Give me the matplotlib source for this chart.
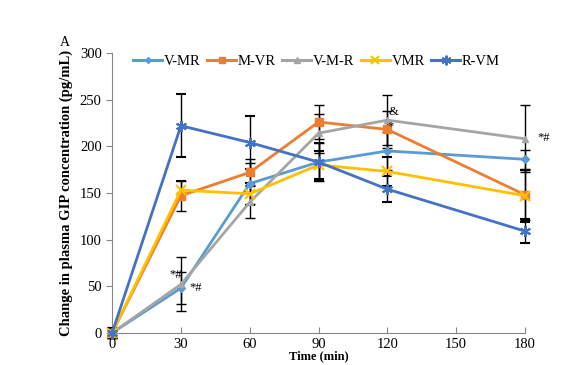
import matplotlib
matplotlib.use("Agg")
import matplotlib.pyplot as plt
from matplotlib.lines import Line2D

time = [0, 30, 60, 90, 120, 180]
series_names = ["V-MR", "M-VR", "V-M-R", "VMR", "R-VM"]
v_mr = [0, 48, 160, 183, 195, 186]
m_vr = [0, 147, 172, 226, 218, 148]
v_m_r = [0, 52, 140, 214, 228, 208]
vmr = [0, 153, 149, 180, 173, 147]
r_vm = [0, 222, 204, 183, 154, 109]

v_mr_err = [5, 17, 22, 20, 20, 10]
m_vr_err = [5, 16, 14, 18, 20, 27]
v_m_r_err = [5, 29, 17, 21, 27, 36]
vmr_err = [5, 10, 12, 15, 16, 28]
r_vm_err = [5, 34, 28, 20, 14, 13]

values = [v_mr, m_vr, v_m_r, vmr, r_vm]
errors = [v_mr_err, m_vr_err, v_m_r_err, vmr_err, r_vm_err]
colors = ["#5B9BD5", "#ED7D31", "#A5A5A5", "#FFC000", "#4472C4"]
markers = ["D", "s", "^", "x", (6, 2, 0)]
msizes = [4, 6, 5, 7, 8]

annotations = [("*#", 27.5, 62), ("*#", 36.5, 48), ("&", 122.5, 237), ("*", 121.5, 221), ("*#", 188, 209)]

plt.rcParams["font.family"] = ["Liberation Serif", "DejaVu Serif"]

fig = plt.figure(figsize=(5.75, 3.65), dpi=100)
ax = fig.add_axes([0.195, 0.088, 0.718, 0.767])

handles = []
for name, y, e, c, m, ms in zip(series_names, values, errors, colors, markers, msizes):
    mew = 1.5 if (m == "x" or isinstance(m, tuple)) else 1
    cont = ax.errorbar(time, y, yerr=e, ecolor="black", elinewidth=1, capsize=3.5, capthick=1,
                       color=c, lw=2, marker=m, ms=ms, mew=mew,
                       mfc=c, mec=c, zorder=3)
    for art in cont.get_children():
        art.set_clip_on(False)
    handles.append(Line2D([], [], color=c, lw=2.2, marker=m, ms=ms - 1, mew=mew, mfc=c, mec=c, label=name))

for txt, x, y in annotations:
    ax.text(x, y, txt, fontsize=9, ha="center", va="center", zorder=5)

ax.set_xlim(0, 180)
ax.set_ylim(0, 300)
ax.set_xticks([0, 30, 60, 90, 120, 150, 180])
ax.set_yticks(range(0, 301, 50))
ax.spines["top"].set_visible(False)
ax.spines["right"].set_visible(False)
ax.spines["left"].set_color("#868686")
ax.spines["bottom"].set_color("#868686")
ax.tick_params(axis="y", direction="out", length=4, color="#868686", labelsize=10.5)
ax.tick_params(axis="x", direction="in", length=4, color="#868686", labelsize=10.5)

ax.set_ylabel("Change in plasma GIP concentration (pg/mL)", fontsize=10.5, fontweight="bold", labelpad=5)
ax.set_xlabel("Time (min)", fontsize=9, fontweight="bold", labelpad=0)

fig.text(0.104, 0.875, "A", fontsize=10)

ax.legend(handles=handles, loc="upper center", bbox_to_anchor=(0.495, 1.015), ncol=5, frameon=False,
          fontsize=10.5, handlelength=2.0, handletextpad=0.1, columnspacing=0.45, borderaxespad=0)

fig.savefig("out.png", dpi=100)
